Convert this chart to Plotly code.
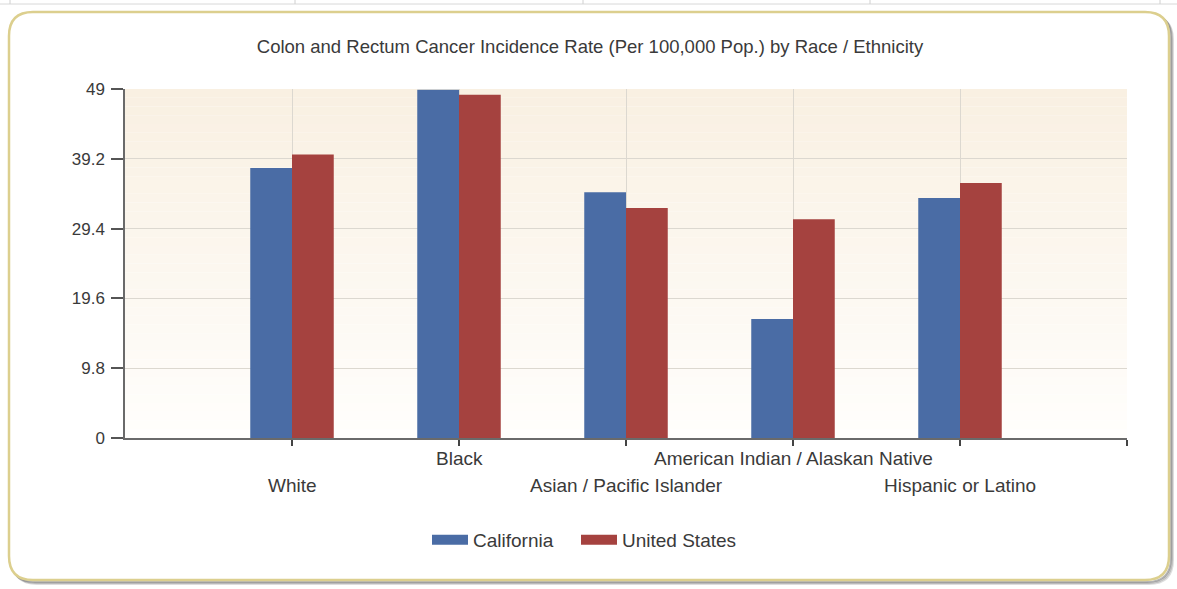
import plotly.graph_objects as go

# ---------------- data ----------------
categories = ["White", "Black", "Asian / Pacific Islander",
              "American Indian / Alaskan Native", "Hispanic or Latino"]
california = [37.9, 48.9, 34.5, 16.7, 33.7]
united_states = [39.8, 48.2, 32.3, 30.7, 35.8]
y_ticks = [0, 9.8, 19.6, 29.4, 39.2, 49]
y_tick_labels = ["0", "9.8", "19.6", "29.4", "39.2", "49"]
series_names = ["California", "United States"]
title_text = "Colon and Rectum Cancer Incidence Rate (Per 100,000 Pop.) by Race / Ethnicity"

# ---------------- layout helpers ----------------
W, H = 1177, 589
def px(x):
    return x / W
def py(y):
    return 1 - y / H

BLUE = "#4a6ca5"
RED = "#a5423f"
FONT = "Liberation Sans"
TXT = "#3a3a3a"

xpos = list(range(1, len(categories) + 1))

fig = go.Figure()
fig.add_trace(go.Bar(x=xpos, y=california, name=series_names[0], marker_color=BLUE,
                     marker_line_width=0, showlegend=False, legendgroup="ca"))
fig.add_trace(go.Bar(x=xpos, y=united_states, name=series_names[1], marker_color=RED,
                     marker_line_width=0, showlegend=False, legendgroup="us"))
# legend proxies (wide swatches)
fig.add_trace(go.Scatter(x=[None], y=[None], mode="lines", name=series_names[0],
                         line=dict(color=BLUE, width=14), legendgroup="ca", legendwidth=98))
fig.add_trace(go.Scatter(x=[None], y=[None], mode="lines", name=series_names[1],
                         line=dict(color=RED, width=14), legendgroup="us", legendwidth=130))

shapes = []

def rrect(x0, y0, x1, y1, r):
    X0, X1 = px(x0), px(x1)
    Y0, Y1 = py(y0), py(y1)
    rx, ry = r / W, r / H
    return (f"M{X0+rx},{Y0} L{X1-rx},{Y0} Q{X1},{Y0} {X1},{Y0-ry} "
            f"L{X1},{Y1+ry} Q{X1},{Y1} {X1-rx},{Y1} "
            f"L{X0+rx},{Y1} Q{X0},{Y1} {X0},{Y1+ry} "
            f"L{X0},{Y0-ry} Q{X0},{Y0} {X0+rx},{Y0} Z")

# top table strip
shapes.append(dict(type="line", xref="paper", yref="paper", x0=0, x1=1, y0=py(4), y1=py(4),
                   line=dict(color="#d8d8d8", width=1), layer="below"))
for xv in [10, 295, 583, 870, 1160]:
    shapes.append(dict(type="line", xref="paper", yref="paper", x0=px(xv), x1=px(xv),
                       y0=py(0), y1=py(4), line=dict(color="#d0d0d0", width=1), layer="below"))

# shadow
for off, col in [(4, "rgba(120,120,120,0.25)"), (3, "rgba(120,120,120,0.35)"), (2, "rgba(110,110,110,0.5)")]:
    shapes.append(dict(type="path", xref="paper", yref="paper",
                       path=rrect(9 + off, 12 + off, 1169 + off, 580 + off, 24),
                       line=dict(color=col, width=2), fillcolor="rgba(0,0,0,0)", layer="below"))
# border box
shapes.append(dict(type="path", xref="paper", yref="paper",
                   path=rrect(9, 12, 1169, 580, 24),
                   line=dict(color="#dccf8e", width=2.5), fillcolor="white", layer="below"))

# gradient background of plot area
N = 40
top = (249, 240, 226)
bot = (255, 254, 252)
for i in range(N):
    t = i / (N - 1)
    c = tuple(round(top[k] + (bot[k] - top[k]) * t) for k in range(3))
    shapes.append(dict(type="rect", xref="x domain", yref="y domain",
                       x0=0, x1=1, y0=1 - (i + 1) / N, y1=1 - i / N,
                       fillcolor=f"rgb{c}", line=dict(width=0), layer="below"))

# staggered category labels
annotations = []
for i, (xv, lab) in enumerate(zip(xpos, categories)):
    yrow = 485 if i % 2 == 0 else 458
    annotations.append(dict(x=xv, y=py(yrow), xref="x", yref="paper", text=lab,
                            showarrow=False, xanchor="center", yanchor="middle",
                            font=dict(family=FONT, size=19, color=TXT)))

fig.update_layout(
    width=W, height=H,
    margin=dict(l=0, r=0, t=0, b=0, pad=0, autoexpand=False),
    paper_bgcolor="white",
    plot_bgcolor="rgba(0,0,0,0)",
    barmode="group", bargap=0.5, bargroupgap=0,
    title=dict(text=title_text, x=px(590), xanchor="center", y=py(47), yanchor="middle",
               xref="paper", yref="paper",
               font=dict(family=FONT, size=18.5, color=TXT)),
    xaxis=dict(domain=[px(125), px(1127)], range=[0, len(categories) + 1],
               tickvals=xpos + [len(categories) + 1], ticktext=[""] * (len(categories) + 1),
               showgrid=True, gridcolor="#dcd8d0", gridwidth=1,
               showline=True, linecolor="#6a6a6a", linewidth=1.5,
               ticks="outside", ticklen=6, tickcolor="#444", tickwidth=1.5,
               zeroline=False, fixedrange=True),
    yaxis=dict(domain=[py(438), py(89)], range=[0, 49],
               tickvals=y_ticks, ticktext=y_tick_labels,
               showgrid=True, gridcolor="#dcd8d0", gridwidth=1,
               showline=True, linecolor="#6a6a6a", linewidth=1.5,
               ticks="outside", ticklen=12, tickcolor="#555", tickwidth=1.5,
               ticklabelstandoff=3,
               tickfont=dict(family=FONT, size=17, color=TXT),
               zeroline=False, fixedrange=True),
    legend=dict(orientation="h", x=px(592), xanchor="center", y=py(540), yanchor="middle",
                font=dict(family=FONT, size=19, color=TXT), bgcolor="rgba(0,0,0,0)",
                itemwidth=36, traceorder="normal"),
    shapes=shapes,
    annotations=annotations,
)

fig.write_html(
    "out.html",
    config={"displayModeBar": False},
    post_script="document.body.style.margin='0';document.body.style.overflow='hidden';"
                "document.documentElement.style.overflow='hidden';",
)
